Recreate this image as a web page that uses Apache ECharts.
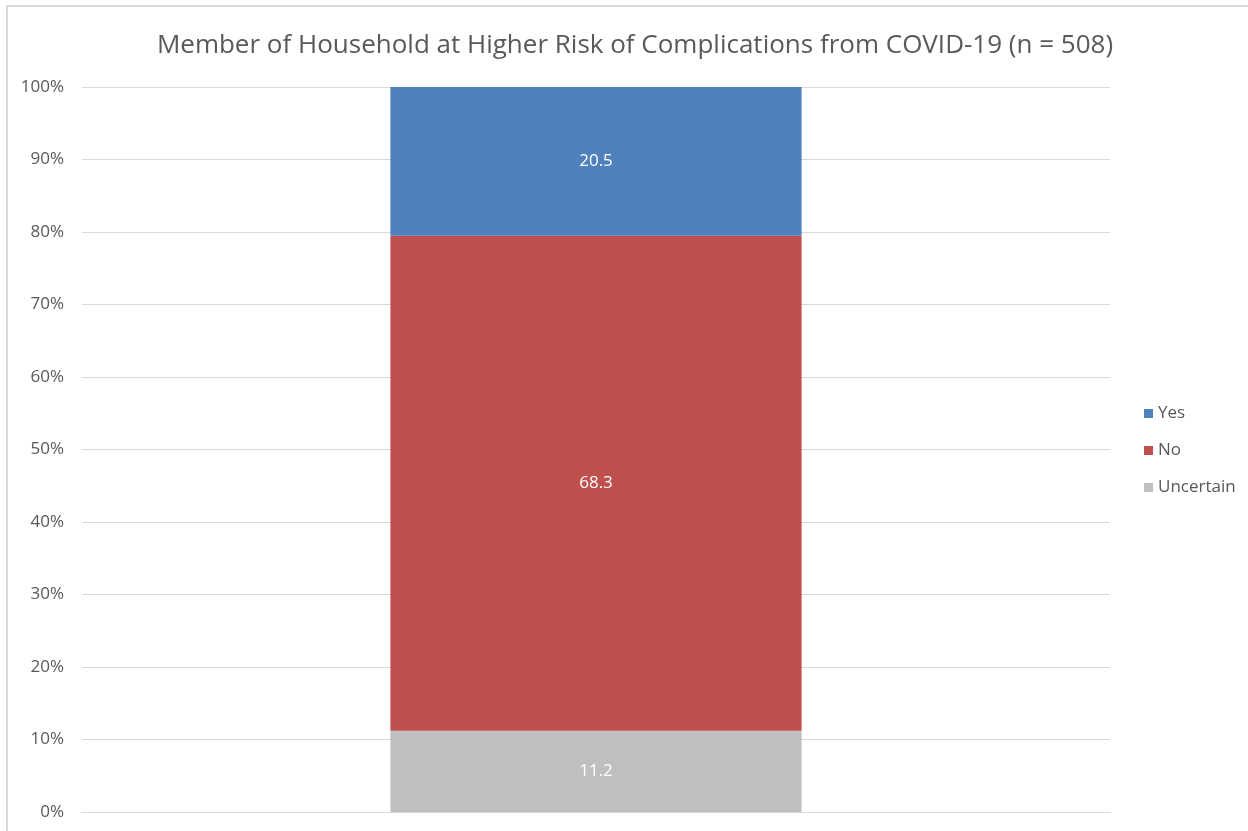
<!DOCTYPE html>
<html>
<head>
<meta charset="utf-8">
<title>Member of Household at Higher Risk</title>
<script src="https://cdn.jsdelivr.net/npm/echarts@6/dist/echarts.min.js"></script>
<style>
  html, body { margin: 0; padding: 0; background: #fff; }
  #chart { width: 1248px; height: 831px; }
</style>
</head>
<body>
<div id="chart"></div>
<script>
// one category, three stacked parts (percent of respondents)
const categories = [''];
const seriesNames = ['Yes', 'No', 'Uncertain'];
const yesValues = [20.5];
const noValues = [68.3];
const uncertainValues = [11.2];
const yTicks = [0, 10, 20, 30, 40, 50, 60, 70, 80, 90, 100];

const colors = { Yes: '#4F81BD', No: '#C0504D', Uncertain: '#BFBFBF' };
const font = '"Open Sans", "Noto Sans", sans-serif';

const chart = echarts.init(document.getElementById('chart'));

const makeSeries = (name, data) => ({
  name: name,
  type: 'bar',
  stack: 'total',
  data: data,
  barWidth: '40%',
  itemStyle: { color: colors[name] },
  label: {
    show: true,
    position: 'inside',
    color: '#ffffff',
    fontFamily: font,
    fontSize: 17,
    formatter: p => p.value.toFixed(1)
  },
  emphasis: { disabled: true }
});

const option = {
  backgroundColor: '#ffffff',
  animation: false,
  title: {
    text: 'Member of Household at Higher Risk of Complications from COVID-19 (n = 508)',
    left: 630,
    textAlign: 'center',
    top: 28,
    textStyle: {
      color: '#595959',
      fontFamily: font,
      fontSize: 26,
      fontWeight: 'normal'
    }
  },
  legend: {
    orient: 'vertical',
    left: 1139,
    top: 397,
    itemWidth: 9,
    itemHeight: 9,
    itemGap: 14,
    icon: 'rect',
    data: seriesNames,
    textStyle: { color: '#595959', fontFamily: font, fontSize: 17, lineHeight: 23 }
  },
  grid: {
    left: 82,
    right: 138,
    top: 87,
    bottom: 19,
    containLabel: false
  },
  graphic: [{
    type: 'rect',
    shape: { x: 7, y: 6, width: 1300, height: 900 },
    style: { fill: 'none', stroke: '#D9D9D9', lineWidth: 2 },
    silent: true,
    z: -1
  }],
  xAxis: {
    type: 'category',
    data: categories,
    axisLine: { show: true, lineStyle: { color: '#D9D9D9' } },
    axisTick: { show: false },
    axisLabel: { show: false }
  },
  yAxis: {
    type: 'value',
    min: yTicks[0],
    max: yTicks[yTicks.length - 1],
    interval: 10,
    axisLine: { show: false },
    axisTick: { show: false },
    axisLabel: {
      formatter: '{value}%',
      color: '#595959',
      fontFamily: font,
      fontSize: 17,
      margin: 18
    },
    splitLine: { lineStyle: { color: '#D9D9D9', width: 1 } }
  },
  series: [
    makeSeries('Uncertain', uncertainValues),
    makeSeries('No', noValues),
    makeSeries('Yes', yesValues)
  ]
};

chart.setOption(option);
</script>
</body>
</html>
